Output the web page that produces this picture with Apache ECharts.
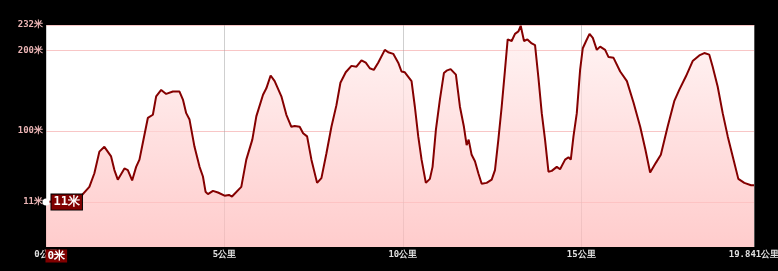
<!DOCTYPE html>
<html>
<head>
<meta charset="utf-8">
<script src="https://cdn.jsdelivr.net/npm/echarts@6/dist/echarts.min.js"></script>
<style>
html,body{margin:0;padding:0;background:#000;}
#c{width:778px;height:271px;}
</style>
</head>
<body>
<div id="c"></div>
<script>
// distance along route (km)
const distances = [0,0.89,0.935,1.215,1.356,1.496,1.636,1.824,1.917,2.012,2.198,2.293,2.414,2.526,2.619,2.714,2.854,2.995,3.087,3.228,3.368,3.556,3.741,3.837,3.929,4.022,4.162,4.303,4.398,4.471,4.538,4.679,4.819,5.004,5.128,5.212,5.473,5.613,5.782,5.894,6.082,6.175,6.295,6.408,6.596,6.736,6.876,6.969,7.109,7.205,7.317,7.438,7.597,7.718,7.859,7.999,8.139,8.251,8.4,8.56,8.7,8.841,8.961,9.074,9.186,9.309,9.495,9.59,9.731,9.871,9.963,10.056,10.104,10.244,10.337,10.432,10.525,10.645,10.758,10.833,10.926,11.038,11.151,11.226,11.339,11.487,11.6,11.712,11.788,11.844,11.928,12.021,12.116,12.209,12.349,12.49,12.582,12.677,12.77,12.863,12.938,13.05,13.143,13.239,13.303,13.396,13.491,13.612,13.705,13.8,13.893,13.985,14.081,14.173,14.314,14.406,14.547,14.642,14.707,14.782,14.875,14.968,15.043,15.136,15.232,15.324,15.436,15.529,15.669,15.765,15.905,16.091,16.279,16.466,16.652,16.8,16.93,17.09,17.23,17.42,17.606,17.746,17.934,18.122,18.308,18.448,18.588,18.683,18.824,18.964,19.105,19.245,19.402,19.57,19.758,19.841];
// elevation (m)
const elevations = [11,14,16,30,47,74,80,68,51,39,53,51,38,55,64,85,116,120,143,151,146,149,149,139,122,114,80,55,43,24,21,25,23,19,20,18,30,64,89,118,145,153,169,162,143,120,105,106,105,97,93,64,35,41,72,105,132,160,173,181,180,188,185,178,176,185,201,198,196,185,174,173,172,162,130,93,64,35,40,55,101,139,172,175,177,170,130,105,82,89,70,62,47,34,35,39,51,89,130,176,214,212,221,224,231,212,214,209,207,166,122,89,49,50,55,52,64,67,64,93,122,176,203,212,221,216,201,205,201,192,191,174,162,135,105,76,48,60,70,105,137,151,168,187,194,197,195,180,155,122,93,68,40,35,32,32];
const xTickValues = [0,5,10,15,19.841];
const yTickValues = [11,100,200,232];
const yMin = -45, yMax = 232;
const startLabel = '11米';
const bottomLabel = '0米';

const seriesData = distances.map((d,i)=>[d, elevations[i]]);
const FONT = 'DejaVu Sans Mono';

const chart = echarts.init(document.getElementById('c'));
chart.setOption({
  backgroundColor:'#000',
  animation:false,
  grid:{left:46,right:24,top:25,bottom:24,show:true,backgroundColor:'#fff',borderWidth:0,outerBoundsMode:'none',containLabel:false},
  xAxis:{
    type:'value',min:0,max:19.841,
    axisLine:{show:false},
    axisTick:{show:false,customValues:xTickValues},
    axisLabel:{customValues:xTickValues,formatter:v=>v+'公里',color:'#e0e0e0',fontFamily:FONT,fontWeight:'bold',fontSize:9,margin:3,hideOverlap:false,showMinLabel:true,showMaxLabel:true},
    splitLine:{show:true,lineStyle:{color:'rgba(160,160,160,0.5)',width:1}}
  },
  yAxis:{
    type:'value',min:yMin,max:yMax,
    axisLine:{show:false},
    axisTick:{show:false,customValues:yTickValues},
    axisLabel:{customValues:yTickValues,formatter:v=>v+'米',color:'#eab4b4',fontFamily:FONT,fontWeight:'bold',fontSize:9,margin:3},
    splitLine:{show:true,lineStyle:{color:'rgba(240,128,128,0.45)',width:1}}
  },
  series:[{
    type:'line',
    data:seriesData,
    showSymbol:false,
    symbol:'none',
    lineStyle:{color:'#850000',width:2},
    areaStyle:{origin:'start',color:new echarts.graphic.LinearGradient(0,0,0,1,[{offset:0,color:'#fff0f0'},{offset:1,color:'#ffb6b6'}])},
    markPoint:{
      silent:true,
      data:[
        {coord:[distances[0],elevations[0]],symbol:'emptyCircle',symbolSize:5,
          itemStyle:{color:'#fff',borderColor:'#850000',borderWidth:1.5},
          label:{show:true,position:'right',distance:2,formatter:startLabel,color:'#fff',fontFamily:FONT,fontWeight:'bold',fontSize:12,
            backgroundColor:'#800000',borderColor:'#000',borderWidth:1,padding:[2,2,1,2]}},
        {coord:[0,yMin],symbol:'rect',symbolSize:1,itemStyle:{color:'rgba(0,0,0,0)'},
          label:{show:true,position:[0,3],formatter:bottomLabel,color:'#fff',fontFamily:FONT,fontWeight:'bold',fontSize:11,
            backgroundColor:'#800000',padding:[1,2,1,2]}}
      ]
    }
  }]
});
</script>
</body>
</html>
